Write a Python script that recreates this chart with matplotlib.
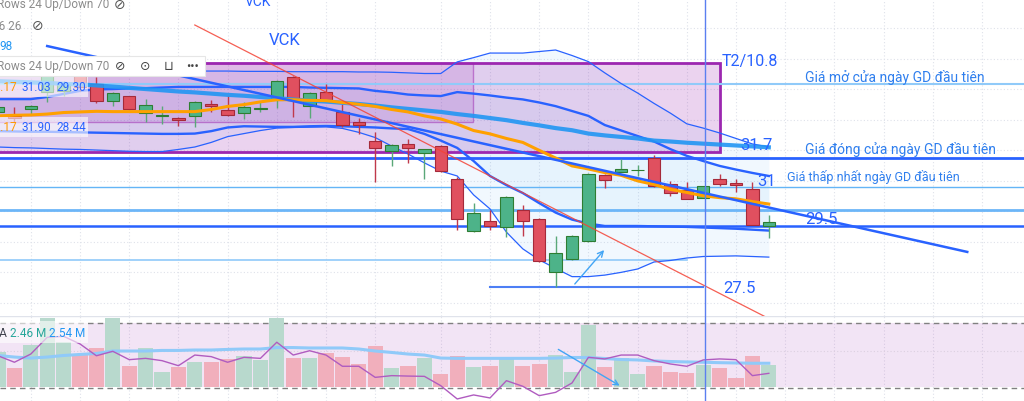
import numpy as np
import matplotlib.pyplot as plt
from matplotlib.patches import Rectangle, FancyArrowPatch

plt.rcParams['font.family'] = ['Roboto', 'DejaVu Sans']

# OHLC giá (nghìn đồng) - 48 phiên
opens = [33.25, 33.12, 33.35, 33.90, 33.94, 34.53, 34.17, 33.61, 33.77, 33.22, 33.12, 33.05,
         33.12, 33.51, 33.31, 33.22, 33.35, 33.64, 34.40, 33.44, 33.90, 33.25, 32.92, 32.30,
         31.97, 32.20, 31.90, 32.13, 31.05, 29.35, 29.67, 29.48, 30.03, 29.74, 28.00, 28.43,
         29.02, 31.18, 31.28, 31.33, 31.74, 30.89, 30.69, 30.43, 31.05, 30.92, 30.72, 29.51]
highs = [33.51, 33.41, 33.48, 34.53, 34.26, 34.66, 34.40, 33.90, 33.78, 33.67, 33.44, 33.08,
         33.61, 33.64, 33.77, 33.58, 33.58, 34.30, 34.43, 33.90, 34.17, 33.51, 33.05, 32.59,
         32.20, 32.36, 32.03, 32.17, 31.12, 30.26, 30.03, 30.49, 30.20, 29.77, 29.18, 29.20,
         31.25, 31.22, 31.71, 31.51, 31.84, 30.99, 30.95, 30.83, 31.22, 31.05, 30.95, 29.87]
lows = [33.15, 32.92, 33.18, 33.58, 33.77, 33.94, 33.54, 33.44, 33.31, 32.92, 32.85, 32.79,
        32.76, 33.25, 33.12, 33.02, 33.25, 33.38, 33.08, 33.05, 33.61, 32.76, 32.53, 30.95,
        31.48, 31.58, 31.05, 31.28, 29.38, 29.31, 29.38, 29.15, 29.18, 28.33, 27.51, 28.41,
        29.00, 30.76, 31.27, 31.15, 30.79, 30.49, 30.39, 30.42, 30.82, 30.62, 29.54, 29.12]
closes = [33.41, 33.05, 33.44, 34.49, 34.17, 34.07, 33.61, 33.87, 33.35, 33.48, 33.15, 32.99,
          33.58, 33.44, 33.15, 33.41, 33.38, 34.26, 33.64, 33.87, 33.64, 32.82, 32.82, 32.07,
          32.17, 32.07, 32.03, 31.31, 29.74, 29.94, 29.51, 30.46, 29.67, 28.36, 28.63, 29.18,
          31.22, 31.02, 31.38, 31.35, 30.82, 30.59, 30.40, 30.82, 30.89, 30.85, 29.55, 29.64]

# khối lượng (triệu cp)
volumes = [2.43, 1.34, 2.94, 4.79, 3.17, 2.24, 2.71, 4.79, 1.46, 2.71, 1.08, 1.43,
           1.74, 1.78, 1.97, 2.15, 1.92, 4.79, 2.01, 2.01, 2.36, 2.08, 1.62, 2.89,
           1.32, 1.50, 2.01, 0.92, 2.19, 1.41, 1.50, 2.08, 1.46, 1.62, 2.24, 1.04,
           4.33, 1.39, 2.01, 0.92, 1.46, 1.08, 0.99, 1.55, 1.34, 0.65, 2.15, 1.57]
vol_ma = [2.21, 2.10, 2.03, 2.10, 2.21, 2.28, 2.35, 2.52, 2.52, 2.52, 2.56, 2.56,
          2.59, 2.59, 2.63, 2.66, 2.66, 2.76, 2.76, 2.73, 2.73, 2.73, 2.66, 2.52,
          2.42, 2.31, 2.24, 2.03, 2.01, 2.01, 2.01, 2.01, 2.01, 2.01, 2.03, 2.07,
          2.07, 2.00, 1.93, 1.90, 1.83, 1.79, 1.76, 1.74, 1.71, 1.69, 1.67, 1.67]
vol_osc = [2.19, 1.74, 2.31, 3.47, 3.54, 3.01, 2.19, 2.50, 1.92, 2.01, 1.85, 1.50,
           2.24, 2.13, 1.74, 2.08, 2.01, 3.13, 2.24, 2.54, 2.24, 1.46, 1.46, 0.69,
           0.81, 0.78, 0.76, 0.11, -0.81, -0.53, -0.74, 0.46, 0.07, -0.58, -0.35, 0.30,
           2.08, 1.97, 2.24, 2.24, 1.85, 1.62, 1.46, 1.90, 1.97, 1.92, 0.81, 0.97]

# chỉ báo trên giá
bb_basis = [33.12, 33.14, 33.15, 33.18, 33.23, 33.25, 33.27, 33.26, 33.26, 33.26, 33.26, 33.26,
            33.26, 33.33, 33.43, 33.49, 33.58, 33.65, 33.65, 33.63, 33.62, 33.56, 33.50, 33.43,
            33.33, 33.25, 33.12, 33.02, 32.85, 32.64, 32.53, 32.38, 32.25, 31.99, 31.74, 31.48,
            31.38, 31.26, 31.17, 30.99, 30.87, 30.71, 30.61, 30.50, 30.44, 30.40, 30.31, 30.23]
ma_long = [34.26, 34.24, 34.22, 34.20, 34.17, 34.15, 34.12, 34.08, 34.04, 34.00, 33.96, 33.92,
           33.89, 33.85, 33.81, 33.78, 33.74, 33.70, 33.66, 33.62, 33.59, 33.55, 33.51, 33.46,
           33.40, 33.35, 33.30, 33.25, 33.18, 33.12, 33.05, 32.98, 32.89, 32.81, 32.72, 32.65,
           32.54, 32.48, 32.43, 32.38, 32.31, 32.28, 32.24, 32.21, 32.18, 32.15, 32.12, 32.09]
bb_upper = [34.62, 34.62, 34.62, 34.61, 34.61, 34.61, 34.61, 34.60, 34.60, 34.60, 34.60, 34.59,
            34.59, 34.59, 34.59, 34.58, 34.58, 34.58, 34.57, 34.57, 34.57, 34.57, 34.56, 34.56,
            34.55, 34.53, 34.51, 34.51, 34.89, 35.03, 35.18, 35.18, 35.18, 35.23, 35.28, 35.10,
            34.90, 34.53, 34.18, 33.87, 33.53, 33.21, 32.86, 32.72, 32.56, 32.38, 32.20, 32.10]
bb_lower = [32.10, 32.08, 32.07, 32.05, 32.03, 32.02, 32.00, 31.98, 31.96, 31.95, 31.95, 32.02,
            32.10, 32.25, 32.44, 32.54, 32.64, 32.72, 32.74, 32.75, 32.76, 32.71, 32.58, 32.41,
            32.13, 31.87, 31.58, 31.31, 31.15, 30.53, 30.07, 29.31, 28.76, 28.40, 28.12, 27.85,
            27.85, 27.90, 27.99, 28.10, 28.33, 28.38, 28.46, 28.51, 28.52, 28.53, 28.51, 28.49]
bb_upper_in = [33.67, 33.67, 33.67, 33.74, 33.84, 33.94, 33.99, 34.00, 34.02, 34.03, 34.05, 34.07,
               34.07, 34.07, 34.07, 34.07, 34.07, 34.07, 34.07, 34.05, 34.04, 34.03, 34.02, 33.94,
               33.89, 33.82, 33.79, 33.77, 33.90, 33.85, 33.79, 33.72, 33.66, 33.56, 33.44, 33.28,
               33.12, 32.82, 32.64, 32.46, 32.28, 32.03, 31.81, 31.64, 31.48, 31.36, 31.25, 31.15]
bb_lower_in = [32.62, 32.61, 32.60, 32.60, 32.59, 32.58, 32.57, 32.56, 32.55, 32.54, 32.53, 32.53,
               32.54, 32.62, 32.74, 32.78, 32.77, 32.76, 32.76, 32.78, 32.79, 32.78, 32.76, 32.74,
               32.71, 32.69, 32.53, 32.31, 32.07, 31.64, 31.15, 30.85, 30.59, 30.26, 29.95, 29.72,
               29.59, 29.51, 29.51, 29.51, 29.50, 29.49, 29.48, 29.46, 29.44, 29.42, 29.39, 29.36]

# vùng giá & đường vẽ tay
level_open, level_close, level_low = 34.15, 31.75, 30.80
level_mid, level_support = 30.05, 29.50
level_28, level_27 = 28.40, 27.50
trend_blue = ((3.0, 35.41), (59.1, 28.66))
trend_red = ((12.0, 36.10), (46.8, 26.53))
zone_box = (-0.5, 31.93, 44.02, 34.85)
zone_inner = (-0.5, 32.91, 28.96, 34.85)
arrow_price = ((35.06, 27.54), (37.07, 28.79))
arrow_vol = ((34.02, 2.73), (38.05, 0.02))
grid_x = [2, 5, 8, 11, 14, 17, 20, 23, 27, 30, 33, 36, 39, 42, 45, 48, 51, 54, 57, 60]
cursor_x = 43.1

BLUE = '#2962ff'
GREEN, RED = '#4db389', '#e0505f'

fig = plt.figure(figsize=(10.24, 4.02), dpi=100)
ax = fig.add_axes([0, 85 / 402, 1, 317 / 402])
axv = fig.add_axes([0, 0, 1, 85 / 402])
for a in (ax, axv):
    a.set_xlim(0.122, 62.56)
    a.axis('off')
ax.set_ylim(26.559, 36.9525)
axv.set_ylim(-0.951, 4.951)

idx = np.arange(len(opens))
o, h, l, c = map(np.array, (opens, highs, lows, closes))
up = c >= o

# lưới
for gx in grid_x:
    ax.axvline(gx, color='#dfe2ea', lw=0.8, ls=(0, (1, 2)), zorder=0)
    axv.axvline(gx, color='#dfe2ea', lw=0.8, ls=(0, (1, 2)), zorder=0)
for gy in range(27, 37):
    ax.axhline(gy, color='#dfe2ea', lw=0.8, ls=(0, (1, 2)), zorder=0)

# bollinger fill
ax.fill_between(idx, bb_lower, bb_upper, color='#2196f3', alpha=0.06, lw=0, zorder=1)
ax.fill_between(idx, bb_lower_in, bb_upper_in, color='#2196f3', alpha=0.05, lw=0, zorder=1)

# hộp tím
x0, y0, x1, y1 = zone_box
ax.add_patch(Rectangle((x0, y0), x1 - x0, y1 - y0, facecolor=(0.61, 0.15, 0.69, 0.2),
                       edgecolor='#9c27b0', lw=2, zorder=1.5))
x0, y0, x1, y1 = zone_inner
ax.add_patch(Rectangle((x0, y0), x1 - x0, y1 - y0, facecolor=(0.61, 0.15, 0.69, 0.14),
                       edgecolor=(0.61, 0.15, 0.69, 0.5), lw=1, zorder=1.6))

# đường ngang
ax.axhline(level_open, color='#90caf9', lw=1.5, zorder=2)
ax.axhline(level_close, color=BLUE, lw=2, zorder=2)
ax.axhline(level_low, color='#64b5f6', lw=1, zorder=2)
ax.axhline(level_mid, color='#6cb6f8', lw=2, zorder=2)
ax.axhline(level_support, color=BLUE, lw=1.8, zorder=2)
ax.plot([0, 42], [level_28, level_28], color='#90caf9', lw=1.2, zorder=2)
ax.plot([30, 43], [level_27, level_27], color='#4d7ff5', lw=1.5, zorder=2)

# bollinger lines
ax.plot(idx, bb_upper, color=BLUE, lw=0.9, zorder=3)
ax.plot(idx, bb_lower, color=BLUE, lw=0.9, zorder=3)
ax.plot(idx, bb_upper_in, color=BLUE, lw=1.7, zorder=3)
ax.plot(idx, bb_lower_in, color=BLUE, lw=1.7, zorder=3)

# nến
ax.vlines(idx[up], l[up], h[up], color='#5aa878', lw=1, zorder=4)
ax.vlines(idx[~up], l[~up], h[~up], color='#c0394b', lw=1, zorder=4)
body = np.maximum(np.abs(c - o), 0.03)
ax.bar(idx[up], body[up], 0.76, bottom=np.minimum(o, c)[up], color=GREEN,
       edgecolor='#2e7d32', lw=0.8, zorder=4.5)
ax.bar(idx[~up], body[~up], 0.76, bottom=np.minimum(o, c)[~up], color=RED,
       edgecolor='#a52a3a', lw=0.8, zorder=4.5)

# MA
ax.plot(idx, ma_long, color='#2196f3', lw=3, alpha=0.9, zorder=5)
ax.plot(idx, bb_basis, color='#ffa000', lw=2.2, zorder=5)

# trendline
(tx0, ty0), (tx1, ty1) = trend_blue
ax.plot([tx0, tx1], [ty0, ty1], color=BLUE, lw=1.8, zorder=5)
(tx0, ty0), (tx1, ty1) = trend_red
ax.plot([tx0, tx1], [ty0, ty1], color='#f44336', lw=0.9, alpha=0.85, zorder=5)

ax.add_patch(FancyArrowPatch(arrow_price[0], arrow_price[1], arrowstyle='->',
                             mutation_scale=10, color='#42a5f5', lw=1, zorder=6))

ax.axvline(cursor_x, color='#5b7ff0', lw=1, zorder=6)
axv.axvline(cursor_x, color='#5b7ff0', lw=1, zorder=6)

# nhãn
ax.text(15.85, 36.89, 'VCK', color=BLUE, fontsize=10, ha='center', va='center')
ax.text(17.5, 35.64, 'VCK', color=BLUE, fontsize=12, ha='center', va='center', zorder=7)
ax.text(44.15, 34.92, 'T2/10.8', color=BLUE, fontsize=11.5, va='center', zorder=7)
ax.text(49.2, 34.41, 'Giá mở cửa ngày GD đầu tiên', color='#2f7fee', fontsize=10, va='center')
ax.text(49.2, 32.06, 'Giá đóng cửa ngày GD đầu tiên', color='#2f7fee', fontsize=10, va='center')
ax.text(48.1, 31.16, 'Giá thấp nhất ngày GD đầu tiên', color='#2f7fee', fontsize=9, va='center')
ax.text(45.24, 32.17, '31.7', color=BLUE, fontsize=12, va='center', zorder=7)
ax.text(46.28, 31.0, '31', color=BLUE, fontsize=12, va='center', zorder=7)
ax.text(49.2, 29.74, '29.5', color=BLUE, fontsize=12, va='center', zorder=7)
ax.text(44.2, 27.49, '27.5', color=BLUE, fontsize=12, va='center', zorder=7)

# legend góc trái
GRAY = '#8c8c8c'
ax.text(-0.06, 36.79, 'Rows 24 Up/Down 70', color=GRAY, fontsize=8.5, va='center')
ax.text(7.44, 36.79, '⊘', color='#555', fontsize=10, va='center', ha='center')
ax.text(-0.37, 36.10, '26 26', color=GRAY, fontsize=8.5, va='center')
ax.text(2.44, 36.10, '⊘', color='#555', fontsize=10, va='center', ha='center')
ax.text(0.06, 35.44, '98', color='#2196f3', fontsize=8.5, va='center')

ax.add_patch(Rectangle((-0.5, 34.43), 13.12, 0.65, facecolor='white', edgecolor='#e6e6e6',
                       lw=0.8, zorder=8))
ax.text(-0.06, 34.76, 'Rows 24 Up/Down 70', color=GRAY, fontsize=8.5, va='center', zorder=9)
for ix, sym in zip([7.44, 8.96, 10.37, 11.89], ['⊘', '⊙', '⊔', '•••']):
    ax.text(ix, 34.76, sym, color='#444', fontsize=9, va='center', ha='center', zorder=9)

for ly, vals in [(34.07, ['30.17', '31.03', '29.30']), (32.76, ['30.17', '31.90', '28.44'])]:
    ax.add_patch(Rectangle((-0.5, ly - 0.32), 6.0, 0.64, facecolor=(1, 1, 1, 0.6),
                           lw=0, zorder=8))
    for ix, txt, col in zip([-0.67, 1.46, 3.54], vals, ['#ff9800', BLUE, BLUE]):
        ax.text(ix, ly, txt, color=col, fontsize=8.5, va='center', zorder=9)

# khối lượng
axv.axhspan(0, 4.465, color='#9c27b0', alpha=0.12, lw=0, zorder=0)
axv.axhline(4.465, color='#808080', lw=1, ls=(0, (4, 3)), zorder=1)
axv.axhline(-0.05, color='#808080', lw=1, ls=(0, (4, 3)), zorder=1)
axv.axhline(4.93, color='#e0e3eb', lw=1, zorder=1)
axv.axhline(2.55, color='#dcd0e0', lw=0.8, ls=(0, (1, 2)), zorder=1)
vol_colors = np.where(up, '#b8d9cd', '#f1afbc')
axv.bar(idx, volumes, 0.92, color=vol_colors, zorder=2)
axv.plot(idx, vol_ma, color='#90caf9', lw=2.2, zorder=3)
axv.plot(idx, vol_osc, color='#b05cc0', lw=1, zorder=3)
axv.add_patch(FancyArrowPatch(arrow_vol[0], arrow_vol[1], arrowstyle='->',
                              mutation_scale=9, color='#42a5f5', lw=1, zorder=4))
axv.add_patch(Rectangle((-0.5, 3.08), 6.0, 1.52, facecolor=(1, 1, 1, 0.6), lw=0, zorder=5))
axv.text(-0.55, 3.84, 'MA', color='#434651', fontsize=8.5, va='center', zorder=6)
axv.text(0.73, 3.84, '2.46 M', color='#26a69a', fontsize=8.5, va='center', zorder=6)
axv.text(3.11, 3.84, '2.54 M', color='#2196f3', fontsize=8.5, va='center', zorder=6)

fig.savefig('out.png', dpi=100, facecolor='white')
